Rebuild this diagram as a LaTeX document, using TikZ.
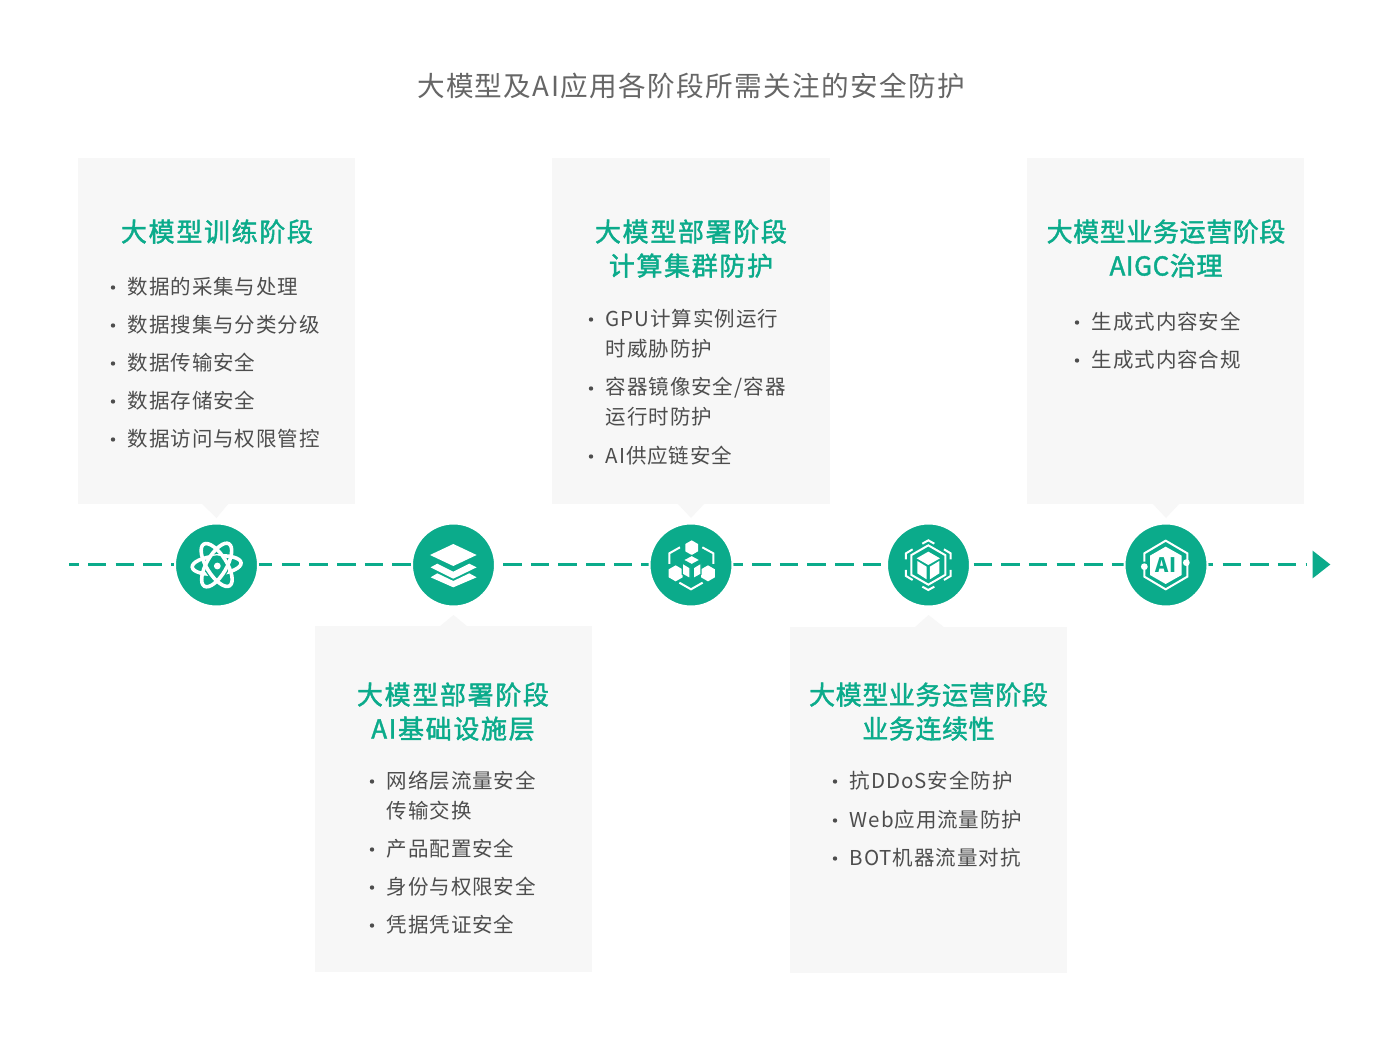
\documentclass[tikz,border=0pt]{standalone}
\usepackage{fontspec}
\newfontfamily\bodyf[LetterSpace=4.5]{Noto Sans CJK SC}
\newfontfamily\headf[LetterSpace=6.4,FakeBold=1.6]{Noto Sans CJK SC}
\newfontfamily\headg[LetterSpace=2.3,FakeBold=1.6]{Noto Sans CJK SC}
\newfontfamily\titlef[LetterSpace=5]{Noto Sans CJK SC}
\definecolor{brand}{HTML}{0BAB8B}
\definecolor{panelc}{HTML}{F7F7F7}
\definecolor{bodyc}{HTML}{4D4D4D}
\definecolor{titlec}{HTML}{666666}
\newcommand{\hexa}[3]{(#1,{#2-#3}) -- ({#1+0.866*#3},{#2-0.5*#3}) -- ({#1+0.866*#3},{#2+0.5*#3}) -- (#1,{#2+#3}) -- ({#1-0.866*#3},{#2+0.5*#3}) -- ({#1-0.866*#3},{#2-0.5*#3}) -- cycle}
\tikzset{
  x=1pt,y=-1pt,
  panel/.style={fill=panelc,draw=none,minimum width=277.5pt,minimum height=346pt,inner sep=0pt},
  tip/.style={fill=panelc,draw=none},
  hub/.style={circle,fill=brand,draw=white,line width=2pt,minimum size=83pt,inner sep=0pt},
  item/.style={anchor=west,inner sep=0pt,text=bodyc,text height=15.6pt,text depth=0pt,font=\bodyf\fontsize{20.5pt}{24pt}\selectfont},
  heading/.style={inner sep=0pt,text=brand,text height=19pt,text depth=0pt,font=\headf\fontsize{26pt}{30pt}\selectfont},
  headingn/.style={inner sep=0pt,text=brand,text height=19pt,text depth=0pt,font=\headg\fontsize{26pt}{30pt}\selectfont},
  dot/.style={fill=bodyc,draw=none},
  wline/.style={draw=white,line width=2pt,line cap=butt,line join=miter,fill=none},
}
\begin{document}
\begin{tikzpicture}
\useasboundingbox (0,0) rectangle (1400,1046);
\fill[white] (0,0) rectangle (1400,1046);
\node[inner sep=0pt,text=titlec,text height=20.5pt,text depth=0pt,font=\titlef\fontsize{27.6pt}{30pt}\selectfont] (title) at (691,86) {大模型及AI应用各阶段所需关注的安全防护};

% panels
\node[panel] (p1) at (216.5,331) {};
\node[panel] (p2) at (690.8,331) {};
\node[panel] (p3) at (1165.5,331) {};
\node[panel] (p4) at (453.5,799) {};
\node[panel] (p5) at (928.5,799.5) {};
\fill[tip] (201,503) -- (216.5,518) -- (229,503) -- cycle;
\fill[tip] (677,503) -- (691,518) -- (705,503) -- cycle;
\fill[tip] (1152,503) -- (1166,518) -- (1180,503) -- cycle;
\fill[tip] (439,627) -- (453.5,615) -- (468,627) -- cycle;
\fill[tip] (914,628) -- (928.5,615) -- (945,628) -- cycle;

% timeline
\coordinate (tlstart) at (69,564.5);
\coordinate (tlend) at (1307,564.5);
\draw[brand,line width=3pt,dash pattern=on 18.4pt off 9.27pt,dash phase=8.6pt] (tlstart) -- (tlend);
\fill[brand] (1312.7,550.7) -- (1330.3,564.5) -- (1312.7,578.3) -- cycle;

\node[hub] (h1) at (216.5,565) {};
\node[hub] (h2) at (453.5,565) {};
\node[hub] (h3) at (691,565) {};
\node[hub] (h4) at (928.5,565) {};
\node[hub] (h5) at (1166,565) {};

% icon 1: atom
\begin{scope}[shift={(160,490)},x=0.3333pt,y=-0.3333pt]
  \draw[white,line width=3.6pt] (170,225) ellipse [x radius=24.5pt,y radius=9pt,rotate=5];
  \fill[brand] (170,232) circle (12pt);
  \draw[white,line width=3.6pt] (170,225) ellipse [x radius=24.5pt,y radius=10pt,rotate=-58];
  \draw[white,line width=3.6pt] (170,225) ellipse [x radius=24.5pt,y radius=10pt,rotate=60];
  \fill[white] (172,228) circle (3.4pt);
\end{scope}

% icon 2: layers
\begin{scope}[shift={(160,490)},x=0.3333pt,y=-0.3333pt]
  \fill[white] (880,162) -- (950,195) -- (880,228) -- (810,195) -- cycle;
  \fill[white] (812,232) -- (832,221) -- (880,245) -- (928,221) -- (950,232) -- (880,266) -- cycle;
  \fill[white] (812,262) -- (832,250) -- (880,273) -- (928,250) -- (950,262) -- (880,292) -- cycle;
\end{scope}

% icon 3: blocks
\begin{scope}[shift={(630,490)},x=0.3333pt,y=-0.3333pt]
  \fill[white] \hexa{185}{173}{22};
  \fill[white] \hexa{137}{250}{24};
  \fill[white] \hexa{234}{250}{24};
  \draw[brand,line width=1.2pt,fill=white] (185,196) -- (211,210) -- (185,224) -- (159,210) -- cycle;
  \draw[brand,line width=1.2pt,fill=white] (157,219) -- (180,233) -- (180,266) -- (157,253) -- cycle;
  \draw[brand,line width=1.2pt,fill=white] (190,233) -- (213,219) -- (213,253) -- (190,266) -- cycle;
  \draw[wline] (150,172) -- (118,190) -- (118,222);
  \draw[wline] (217,172) -- (250,190) -- (250,222);
  \draw[wline] (148,278) -- (183,298) -- (218,278);
\end{scope}

% icon 4: cube
\begin{scope}[shift={(630,490)},x=0.3333pt,y=-0.3333pt]
  \draw[wline] \hexa{895}{225}{59};
  \fill[white] (895,185) -- (930,205) -- (895,225) -- (860,205) -- cycle;
  \fill[white] (862,213) -- (890,230) -- (890,268) -- (862,250) -- cycle;
  \fill[white] (900,230) -- (928,213) -- (928,250) -- (900,268) -- cycle;
  \draw[wline] (877,161) -- (895,151) -- (913,161);
  \draw[wline] (877,290) -- (895,300) -- (913,290);
  \draw[wline] (848,178) -- (828,190) -- (828,208);
  \draw[wline] (942,178) -- (962,190) -- (962,208);
  \draw[wline] (828,240) -- (828,258) -- (848,270);
  \draw[wline] (962,240) -- (962,258) -- (942,270);
\end{scope}

% icon 5: AI
\begin{scope}[shift={(1100,490)},x=0.3333pt,y=-0.3333pt]
  \fill[white] (197,170) -- (245,197) -- (245,255) -- (197,282) -- (150,255) -- (150,197) -- cycle;
  \draw[wline] (133,215) -- (133,190) -- (197,152) -- (262,190) -- (262,215);
  \draw[wline] (133,235) -- (133,260) -- (197,298) -- (262,260) -- (262,225);
  \fill[white] (133,230) circle (3.4pt);
  \fill[white] (259,218) circle (3.4pt);
  \node[inner sep=0pt,text=brand,font=\titlef\bfseries\fontsize{20pt}{24pt}\selectfont] (ailabel) at (197,226) {AI};
\end{scope}

% panel 1
\node[heading] (h1a) at (217,232) {大模型训练阶段};
\foreach \n/\y/\t in {a/287/数据的采集与处理,b/325/数据搜集与分类分级,c/363/数据传输安全,d/401/数据存储安全,e/439/数据访问与权限管控}{
  \node[item] (i1\n) at (127.6,\y) {\t};
  \fill[dot] (113,\y+0.5) circle (2.2pt);
}
% panel 2
\node[heading] (h2a) at (691,232) {大模型部署阶段};
\node[heading] (h2b) at (691,266) {计算集群防护};
\node[item] (i2a) at (605.6,319) {GPU计算实例运行};
\node[item] (i2b) at (605.6,349) {时威胁防护};
\node[item] (i2c) at (605.6,387) {容器镜像安全\hspace{1.2pt}/\hspace{1.2pt}容器};
\node[item] (i2d) at (605.6,417) {运行时防护};
\node[item] (i2e) at (605.6,456) {AI供应链安全};
\foreach \y in {319,388,456}{\fill[dot] (591,\y+0.5) circle (2.2pt);}
% panel 3
\node[headingn] (h3a) at (1166,232) {大模型业务运营阶段};
\node[headingn] (h3b) at (1166,266) {AIGC治理};
\foreach \n/\y/\t in {a/322/生成式内容安全,b/360/生成式内容合规}{
  \node[item] (i3\n) at (1091.6,\y) {\t};
  \fill[dot] (1077,\y+0.5) circle (2.2pt);
}
% panel 4
\node[heading] (h4a) at (453,695) {大模型部署阶段};
\node[heading] (h4b) at (453,729) {AI基础设施层};
\foreach \n/\y/\t in {a/781/网络层流量安全,b/811/传输交换,c/849/产品配置安全,d/887/身份与权限安全,e/925/凭据凭证安全}{
  \node[item] (i4\n) at (386.6,\y) {\t};
}
\foreach \y in {781,849,887,925}{\fill[dot] (372,\y+0.5) circle (2.2pt);}
% panel 5
\node[headingn] (h5a) at (928.5,695) {大模型业务运营阶段};
\node[headingn] (h5b) at (928.5,729) {业务连续性};
\foreach \n/\y/\t in {a/781/抗DDoS安全防护,b/820/Web应用流量防护,c/858/BOT机器流量对抗}{
  \node[item] (i5\n) at (849.6,\y) {\t};
  \fill[dot] (835,\y+0.5) circle (2.2pt);
}
\end{tikzpicture}
\end{document}
